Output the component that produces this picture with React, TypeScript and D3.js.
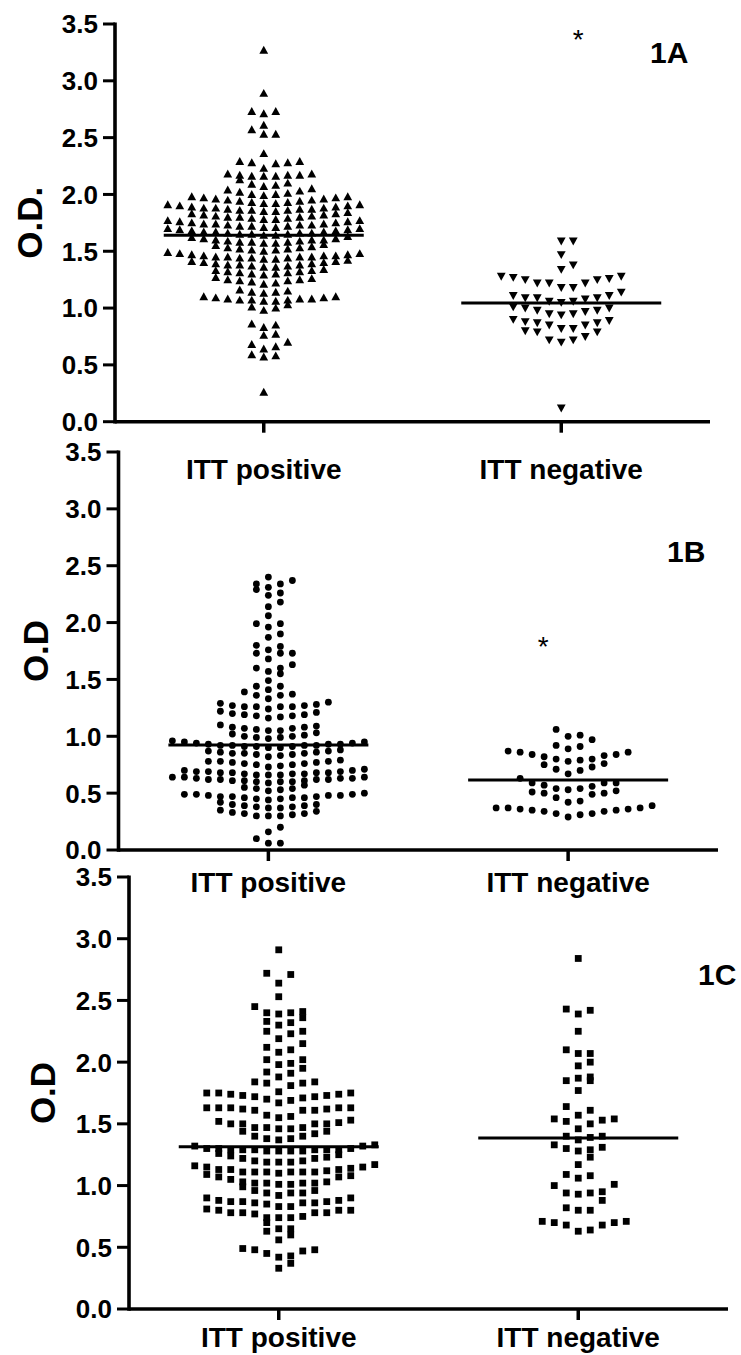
import React from "react";
import * as d3 from "d3";

// ---------- data ----------
const categories = ["ITT positive", "ITT negative"];
const yTicks = [0, 0.5, 1.0, 1.5, 2.0, 2.5, 3.0, 3.5];
const yTickLabels = ["0.0", "0.5", "1.0", "1.5", "2.0", "2.5", "3.0", "3.5"];

// Panel 1A (O.D.)
const aPositive = [
  0.26,
  0.57, 0.58, 0.59,
  0.64, 0.66, 0.68, 0.70,
  0.76, 0.77,
  0.83, 0.85, 0.86,
  0.98, 1.00, 1.01, 1.03,
  1.06, 1.06, 1.07, 1.07, 1.07, 1.08, 1.08, 1.08, 1.09, 1.09, 1.10, 1.10,
  1.13, 1.14, 1.14, 1.15, 1.16,
  1.21, 1.22, 1.23, 1.24, 1.24, 1.25, 1.25, 1.26, 1.27,
  1.29, 1.30, 1.30, 1.31, 1.31, 1.32, 1.32, 1.33, 1.33, 1.34,
  1.36, 1.36, 1.37, 1.37, 1.38, 1.38, 1.38, 1.39, 1.39, 1.40, 1.40, 1.41, 1.41, 1.42,
  1.43, 1.43, 1.44, 1.44, 1.44, 1.45, 1.45, 1.45, 1.45, 1.46, 1.46, 1.46, 1.47, 1.47, 1.48, 1.48, 1.49,
  1.50, 1.51, 1.51, 1.52, 1.52, 1.53, 1.53, 1.54, 1.55, 1.56,
  1.57, 1.57, 1.58, 1.58, 1.58, 1.59, 1.59, 1.60, 1.60, 1.60, 1.61, 1.61, 1.62, 1.63,
  1.64, 1.64, 1.65, 1.65, 1.65, 1.66, 1.66, 1.66, 1.67, 1.67, 1.67, 1.68, 1.68, 1.69, 1.69, 1.70, 1.70,
  1.71, 1.71, 1.72, 1.72, 1.72, 1.73, 1.73, 1.73, 1.74, 1.74, 1.74, 1.75, 1.75, 1.76, 1.76, 1.77, 1.77,
  1.78, 1.78, 1.79, 1.79, 1.80, 1.80, 1.80, 1.81, 1.81, 1.82, 1.82, 1.83, 1.83, 1.84,
  1.85, 1.85, 1.86, 1.86, 1.86, 1.87, 1.87, 1.87, 1.88, 1.88, 1.88, 1.89, 1.89, 1.90, 1.90, 1.91, 1.91,
  1.92, 1.92, 1.93, 1.93, 1.94, 1.94, 1.95, 1.95, 1.96, 1.96, 1.97, 1.97, 1.98, 1.98,
  1.99, 2.00, 2.00, 2.01, 2.02, 2.03, 2.04, 2.05,
  2.07, 2.08, 2.09, 2.10, 2.13,
  2.16, 2.16, 2.16, 2.17, 2.17, 2.17, 2.18, 2.18,
  2.23, 2.27, 2.28, 2.28, 2.29, 2.29,
  2.36,
  2.53, 2.53, 2.57,
  2.61,
  2.71, 2.73, 2.73,
  2.89,
  3.27,
];
const aNegative = [
  0.12,
  0.70, 0.72, 0.72, 0.75, 0.79, 0.79, 0.80,
  0.82, 0.82, 0.85, 0.85, 0.87, 0.87, 0.88, 0.89, 0.90,
  0.94, 0.95, 0.95, 0.97, 0.98, 0.98, 1.00, 1.00, 1.01,
  1.05, 1.06, 1.06, 1.08, 1.09, 1.09, 1.09, 1.11, 1.11, 1.14,
  1.18, 1.18, 1.22, 1.22, 1.22, 1.25, 1.25, 1.26, 1.27, 1.28, 1.28,
  1.34, 1.38,
  1.47,
  1.59, 1.59,
];
const aCentral = [1.64, 1.045];
const aStar = { category: "ITT negative", value: 3.42 };

// Panel 1B (O.D)
const bPositive = [
  0.06, 0.06, 0.10,
  0.16, 0.20,
  0.30, 0.30, 0.30, 0.31, 0.32, 0.32, 0.33, 0.34, 0.35,
  0.37, 0.37, 0.38, 0.38, 0.39, 0.39, 0.40, 0.40, 0.42,
  0.44, 0.45, 0.45, 0.46, 0.46, 0.46, 0.47, 0.47, 0.47, 0.48, 0.48, 0.48, 0.49, 0.49, 0.49, 0.50,
  0.52, 0.53, 0.54, 0.54, 0.55, 0.57,
  0.59, 0.60, 0.60, 0.60, 0.61, 0.61, 0.61, 0.62, 0.62, 0.62, 0.62, 0.63, 0.63, 0.63, 0.64, 0.64, 0.64,
  0.66, 0.66, 0.66, 0.67, 0.67, 0.67, 0.68, 0.68, 0.68, 0.68, 0.69, 0.69, 0.69, 0.70, 0.70, 0.71,
  0.73, 0.74, 0.75, 0.75, 0.76, 0.76, 0.77, 0.77, 0.78, 0.78, 0.78, 0.79,
  0.82, 0.83, 0.84, 0.84, 0.85, 0.85, 0.85, 0.86, 0.86, 0.87, 0.87, 0.88,
  0.90, 0.90, 0.91, 0.91, 0.91, 0.92, 0.92, 0.92, 0.92, 0.93, 0.93, 0.93, 0.94, 0.94, 0.95, 0.95, 0.96,
  0.98, 0.99, 0.99, 1.00, 1.00, 1.01, 1.02, 1.03,
  1.05, 1.05, 1.06, 1.07, 1.07, 1.08, 1.08, 1.09, 1.10,
  1.16, 1.17, 1.18, 1.18, 1.19, 1.19, 1.20, 1.21, 1.22,
  1.24, 1.26, 1.26, 1.26, 1.26, 1.27, 1.27, 1.28, 1.29, 1.30,
  1.33, 1.36, 1.36, 1.37, 1.39,
  1.41, 1.44, 1.44,
  1.49, 1.55,
  1.57, 1.60, 1.60, 1.63,
  1.68, 1.73, 1.73, 1.73,
  1.76, 1.79, 1.80,
  1.87, 1.90,
  1.96, 1.99, 1.99,
  2.06,
  2.14, 2.18,
  2.24, 2.26, 2.29,
  2.31, 2.34, 2.34, 2.37,
  2.40,
];
const bNegative = [
  0.29, 0.31, 0.32, 0.32, 0.34, 0.34, 0.35, 0.35, 0.36, 0.36, 0.37, 0.37, 0.37, 0.39,
  0.42, 0.43, 0.46, 0.49, 0.50, 0.50, 0.51, 0.52,
  0.53, 0.54, 0.54, 0.56, 0.57, 0.59, 0.59, 0.59, 0.63,
  0.67, 0.70, 0.71, 0.73, 0.75, 0.76,
  0.78, 0.79, 0.80, 0.80, 0.82, 0.83, 0.84, 0.84, 0.86, 0.86, 0.87,
  0.89, 0.91, 0.92, 0.97,
  1.00, 1.01, 1.06,
];
const bCentral = [0.923, 0.615];
const bStar = { category: "ITT negative", value: 1.845 };

// Panel 1C (O.D)
const cPositive = [
  0.33, 0.37,
  0.42, 0.43, 0.45, 0.47, 0.48, 0.48, 0.49,
  0.56, 0.60, 0.63,
  0.65, 0.65, 0.70,
  0.74, 0.74, 0.74, 0.75, 0.77, 0.78, 0.78, 0.78, 0.78, 0.80, 0.80, 0.80, 0.81,
  0.83, 0.83, 0.85, 0.86, 0.86, 0.86, 0.87, 0.87, 0.87, 0.88, 0.88, 0.90, 0.90,
  0.92, 0.94, 0.94, 0.94, 0.96, 0.96, 0.99,
  1.01, 1.01, 1.02, 1.02, 1.02, 1.02, 1.03, 1.03, 1.05, 1.07, 1.07, 1.08, 1.09,
  1.10, 1.11, 1.11, 1.11, 1.11, 1.11, 1.11, 1.12, 1.13, 1.13, 1.13, 1.14, 1.15, 1.15, 1.16, 1.17,
  1.19, 1.19, 1.19, 1.20, 1.20, 1.22, 1.22, 1.23, 1.24, 1.25, 1.26,
  1.28, 1.28, 1.28, 1.28, 1.29, 1.29, 1.29, 1.29, 1.29, 1.29, 1.30, 1.30, 1.30, 1.32, 1.32, 1.33,
  1.37, 1.38, 1.38, 1.40, 1.40, 1.42, 1.44, 1.44,
  1.46, 1.46, 1.47, 1.47, 1.47, 1.50, 1.50, 1.50, 1.50, 1.51, 1.52, 1.53,
  1.55, 1.56, 1.57, 1.61, 1.61, 1.61, 1.62, 1.62, 1.63, 1.63, 1.63, 1.63, 1.63,
  1.67, 1.69, 1.70, 1.71, 1.72, 1.72, 1.73, 1.73, 1.74, 1.74, 1.75, 1.75, 1.75,
  1.76, 1.81, 1.83, 1.83, 1.84, 1.84,
  1.88, 1.91, 1.92, 1.95,
  1.98, 1.99, 2.02, 2.02,
  2.08, 2.10, 2.12, 2.15,
  2.19, 2.23, 2.25, 2.25,
  2.30, 2.32, 2.33, 2.36,
  2.39, 2.40, 2.40, 2.41, 2.45,
  2.53,
  2.64, 2.71, 2.72,
  2.91,
];
const cNegative = [
  0.63, 0.64, 0.68, 0.68, 0.70, 0.70, 0.71, 0.71,
  0.80, 0.80, 0.82, 0.88,
  0.93, 0.94, 0.94, 0.95, 1.00, 1.01,
  1.06, 1.08, 1.09,
  1.17, 1.23,
  1.28, 1.29, 1.30, 1.31, 1.33,
  1.37, 1.39, 1.40, 1.40,
  1.46, 1.50, 1.52, 1.53, 1.54, 1.54,
  1.57, 1.61, 1.64,
  1.77,
  1.85, 1.85, 1.87, 1.88,
  1.97, 2.00,
  2.07, 2.07, 2.10,
  2.25,
  2.39, 2.42, 2.43,
  2.84,
];
const cCentral = [1.315, 1.385];

// ---------- layout / style ----------
const FONT = "'Liberation Sans', Arial, Helvetica, sans-serif";
const SLOT = 12;
const HALF_LINE = 100;

type Marker = "triUp" | "triDown" | "circle" | "square";

const panels = [
  {
    letter: "1A", yLabel: "O.D.", series: [aPositive, aNegative], central: aCentral,
    markers: ["triUp", "triDown"] as Marker[], binPx: [7.5, 12],
    left: 115, right: 710, top: 24, bottom: 421.7,
    yLabelX: 42, catBaseline: 479, letterX: 650, letterY: 63,
    star: aStar as null | { category: string; value: number }, starDx: 17,
  },
  {
    letter: "1B", yLabel: "O.D", series: [bPositive, bNegative], central: bCentral,
    markers: ["circle", "circle"] as Marker[], binPx: [7, 12],
    left: 118.5, right: 718, top: 452, bottom: 850,
    yLabelX: 48, catBaseline: 891.5, letterX: 667, letterY: 562,
    star: bStar as null | { category: string; value: number }, starDx: -25,
  },
  {
    letter: "1C", yLabel: "O.D", series: [cPositive, cNegative], central: cCentral,
    markers: ["square", "square"] as Marker[], binPx: [10, 10],
    left: 129, right: 728, top: 877, bottom: 1309,
    yLabelX: 55, catBaseline: 1347, letterX: 698, letterY: 985,
    star: null as null | { category: string; value: number }, starDx: 0,
  },
];

function swarm(values: number[], cx: number, y: d3.ScaleLinear<number, number>, binPx: number) {
  const sorted = [...values].sort((a, b) => a - b);
  const bins: number[][] = [];
  let start: number | null = null;
  for (const v of sorted) {
    if (start === null || Math.abs(y(v) - y(start)) >= binPx - 1e-6) {
      bins.push([]);
      start = v;
    }
    bins[bins.length - 1].push(v);
  }
  const pts: { x: number; y: number; v: number }[] = [];
  bins.forEach((b) =>
    b.forEach((v, k) => {
      const slot = k === 0 ? 0 : k % 2 === 1 ? (k + 1) / 2 : -k / 2;
      pts.push({ x: cx + slot * SLOT, y: y(v), v });
    })
  );
  return pts;
}

function markerEl(m: Marker, x: number, y: number, key: string) {
  if (m === "circle") return <circle key={key} cx={x} cy={y} r={3.4} fill="#000" />;
  if (m === "square") return <rect key={key} x={x - 3.4} y={y - 3.4} width={6.8} height={6.8} fill="#000" />;
  const w = 4.4;
  if (m === "triUp")
    return <path key={key} d={`M${x},${y - 4.4}L${x + w},${y + 3.5}L${x - w},${y + 3.5}Z`} fill="#000" />;
  return <path key={key} d={`M${x},${y + 4.4}L${x + w},${y - 3.5}L${x - w},${y - 3.5}Z`} fill="#000" />;
}

function Panel({ p }: { p: (typeof panels)[number] }) {
  const x = d3.scalePoint<string>().domain(categories).range([p.left, p.right]).padding(0.5);
  const y = d3.scaleLinear().domain([0, 3.5]).range([p.bottom, p.top]);
  const sw = 3.6;
  return (
    <g>
      {p.series.map((vals, si) => {
        const cx = x(categories[si]) as number;
        return (
          <g key={si}>
            {swarm(vals, cx, y, p.binPx[si]).map((pt, i) => markerEl(p.markers[si], pt.x, pt.y, `${si}-${i}`))}
          </g>
        );
      })}
      {p.central.map((c, si) => {
        const cx = x(categories[si]) as number;
        return <line key={si} x1={cx - HALF_LINE} x2={cx + HALF_LINE} y1={y(c)} y2={y(c)} stroke="#000" strokeWidth={3} />;
      })}
      <line x1={p.left} x2={p.left} y1={y(3.5) - 1.5} y2={p.bottom + sw / 2} stroke="#000" strokeWidth={sw} />
      {yTicks.map((t, i) => (
        <g key={i}>
          <line x1={p.left - 12} x2={p.left} y1={y(t)} y2={y(t)} stroke="#000" strokeWidth={3} />
          <text
            x={p.left - 17}
            y={y(t)}
            dy="0.36em"
            textAnchor="end"
            fontFamily={FONT}
            fontWeight="bold"
            fontSize={26}
            fill="#000"
          >
            {yTickLabels[i]}
          </text>
        </g>
      ))}
      <line x1={p.left} x2={p.right} y1={p.bottom} y2={p.bottom} stroke="#000" strokeWidth={sw} />
      {categories.map((c) => (
        <g key={c}>
          <line x1={x(c)} x2={x(c)} y1={p.bottom} y2={p.bottom + 11} stroke="#000" strokeWidth={3.5} />
          <text
            x={x(c)}
            y={p.catBaseline}
            textAnchor="middle"
            fontFamily={FONT}
            fontWeight="bold"
            fontSize={28}
            fill="#000"
          >
            {c}
          </text>
        </g>
      ))}
      <text
        transform={`translate(${p.yLabelX},${(p.top + p.bottom) / 2}) rotate(-90)`}
        textAnchor="middle"
        fontFamily={FONT}
        fontWeight="bold"
        fontSize={35}
        fill="#000"
      >
        {p.yLabel}
      </text>
      <text x={p.letterX} y={p.letterY} fontFamily={FONT} fontWeight="bold" fontSize={30} fill="#000">
        {p.letter}
      </text>
      {p.star && (
        <text
          x={(x(p.star.category) as number) + p.starDx}
          y={y(p.star.value) + 16}
          textAnchor="middle"
          fontFamily={FONT}
          fontSize={28}
          fill="#000"
        >
          *
        </text>
      )}
    </g>
  );
}

export default function App() {
  return (
    <svg
      width={741}
      height={1355}
      style={{ position: "absolute", left: 0, top: 0, background: "#fff" }}
    >
      <rect width={741} height={1355} fill="#fff" />
      {panels.map((p) => (
        <Panel key={p.letter} p={p} />
      ))}
    </svg>
  );
}
